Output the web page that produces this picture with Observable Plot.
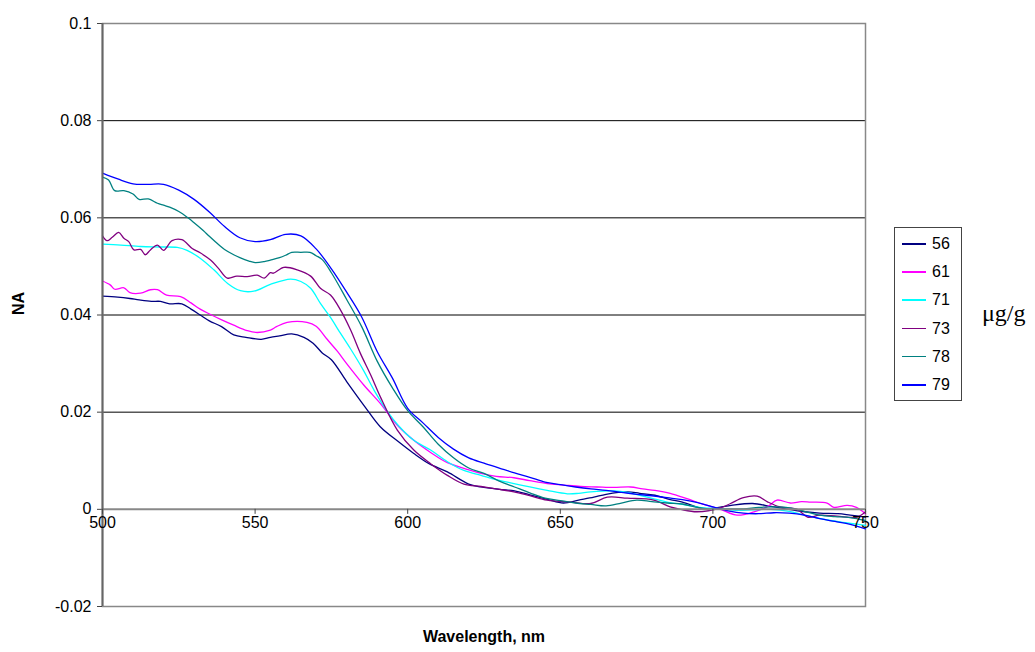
<!DOCTYPE html>
<html>
<head>
<meta charset="utf-8">
<script src="https://cdn.jsdelivr.net/npm/d3@7"></script>
<script src="https://cdn.jsdelivr.net/npm/@observablehq/plot@0.6"></script>
<style>
  body { margin: 0; background: #fff; }
  #wrap { position: relative; width: 1035px; height: 652px; font-family: Arial, "Liberation Sans", sans-serif; }
  #legend { position: absolute; left: 894px; top: 227px; width: 66px; height: 172px; border: 1px solid #444; background: #fff; }
  .item { position: absolute; left: 0; width: 66px; height: 20px; }
  .item .sw { position: absolute; left: 7px; top: 9px; width: 24px; height: 1.5px; }
  .item .lb { position: absolute; left: 37px; top: 0; line-height: 20px; font-size: 16px; color: #000; }
  #unit { position: absolute; left: 982px; top: 299px; font-family: "Liberation Serif", "Times New Roman", serif; font-size: 24px; line-height: 28px; color: #000; }
</style>
</head>
<body>
<div id="wrap"></div>
<script>
// ---- data ----
const seriesNames = ["56", "61", "71", "73", "78", "79"];
const seriesColors = ["#000080", "#FF00FF", "#00FFFF", "#800080", "#008080", "#0000FF"];
const xTicks = [500, 550, 600, 650, 700, 750];
const yTicks = [-0.02, 0, 0.02, 0.04, 0.06, 0.08, 0.1];
const gridVals = [0.02, 0.04, 0.06, 0.08];

// [wavelength nm, NA]
const s56 = [[500,0.0439],[505,0.0437],[509,0.0434],[512,0.0431],[516,0.0428],[519,0.0428],[522,0.0423],[526,0.0423],[529,0.0412],[532,0.0400],[535,0.0388],[539,0.0376],[543,0.0359],[547,0.0354],[552,0.0350],[555,0.0354],[558,0.0357],[562,0.0361],[566,0.0354],[569,0.0342],[572,0.0322],[575,0.0308],[580,0.0263],[586,0.0211],[591,0.0170],[597,0.0139],[602,0.0115],[607,0.0094],[613,0.0077],[620,0.0052],[624,0.0046],[630,0.0041],[635,0.0038],[640,0.0030],[646,0.0020],[651,0.0013],[656,0.0019],[661,0.0025],[665,0.0031],[672,0.0036],[676,0.0033],[681,0.0029],[686,0.0020],[690,0.0015],[697,0.0001],[702,0.0004],[706,0.0008],[713,0.0012],[719,0.0006],[724,0.0001],[730,-0.0005],[735,-0.0008],[741,-0.0009],[745,-0.0012],[750,-0.0016]];
const s61 = [[500,0.0470],[502.5,0.0462],[504,0.0453],[507,0.0456],[509,0.0446],[512.5,0.0445],[515.7,0.0452],[518,0.0452],[521,0.0441],[525.6,0.0438],[529,0.0425],[532,0.0412],[535.4,0.0401],[538.7,0.0391],[543,0.0379],[547.4,0.0368],[550.7,0.0364],[555,0.0369],[557,0.0376],[560.5,0.0385],[567,0.0385],[570,0.0377],[573.6,0.0350],[577,0.0325],[580,0.0300],[585.6,0.0256],[591,0.0218],[596.6,0.0173],[602,0.0142],[607.5,0.0117],[613,0.0096],[620.6,0.0080],[624,0.0074],[629,0.0068],[634.8,0.0065],[640,0.0059],[645.7,0.0053],[651,0.0050],[656.6,0.0047],[662,0.0046],[667.5,0.0045],[673,0.0046],[677,0.0042],[681,0.0039],[686,0.0033],[691.5,0.0022],[697,0.0010],[702.5,0.0000],[708,-0.0012],[713.5,-0.0005],[718,0.0006],[721,0.0019],[725.4,0.0013],[729,0.0016],[732,0.0015],[737.4,0.0013],[739.6,0.0004],[744,0.0008],[747,0.0004],[750,-0.0009]];
const s71 = [[500,0.0546],[506,0.0544],[512.5,0.0541],[519,0.0540],[524.5,0.0539],[527.7,0.0533],[532,0.0517],[536.5,0.0493],[541,0.0465],[545.2,0.0450],[549.6,0.0449],[555,0.0463],[561.6,0.0474],[565,0.0469],[568.2,0.0455],[571.4,0.0424],[574.7,0.0395],[578,0.0362],[581.3,0.0330],[585.6,0.0285],[589,0.0245],[593.5,0.0200],[597,0.0172],[602,0.0142],[607.5,0.0122],[613,0.0098],[618.4,0.0080],[624,0.0070],[629,0.0061],[634.8,0.0053],[640,0.0046],[645.7,0.0039],[652.3,0.0032],[656,0.0033],[660,0.0036],[667.5,0.0038],[672,0.0035],[676,0.0029],[681,0.0021],[685,0.0015],[690,0.0010],[697,0.0003],[702,0.0002],[708,-0.0002],[713,-0.0001],[719,0.0000],[725,-0.0004],[730,-0.0012],[738.5,-0.0023],[744,-0.0028],[750,-0.0033]];
const s73 = [[500,0.0563],[501.5,0.0553],[503.2,0.0560],[505.3,0.0570],[507,0.0558],[508.6,0.0551],[510.3,0.0534],[512.5,0.0535],[514,0.0524],[515.7,0.0534],[518,0.0544],[520,0.0533],[522.8,0.0553],[526,0.0555],[529.4,0.0537],[532,0.0528],[535.4,0.0513],[538,0.0496],[540.9,0.0476],[544,0.0480],[547.4,0.0479],[550.7,0.0482],[553,0.0476],[555,0.0487],[556,0.0486],[559.4,0.0498],[563.8,0.0493],[568.2,0.0480],[571.4,0.0455],[574.7,0.0441],[578,0.0410],[581.3,0.0369],[584.5,0.0321],[588,0.0275],[591,0.0232],[596.6,0.0163],[602,0.0122],[607.5,0.0094],[613,0.0070],[618.4,0.0052],[624,0.0047],[629,0.0042],[634.8,0.0036],[640,0.0028],[645.7,0.0019],[653.3,0.0015],[660,0.0012],[665.4,0.0025],[672,0.0023],[680.6,0.0019],[686,0.0005],[689.4,0.0000],[694.8,-0.0005],[702.5,0.0003],[705.8,0.0012],[710,0.0024],[714.5,0.0027],[718,0.0015],[722,0.0005],[727.6,0.0000],[731,-0.0016],[735,-0.0012],[740.7,-0.0014],[747.2,-0.0016],[750,-0.0005]];
const s78 = [[500,0.0684],[502,0.0678],[504,0.0656],[507,0.0656],[510,0.0649],[512,0.0638],[515,0.0639],[518,0.0630],[520,0.0626],[522,0.0622],[525,0.0613],[528,0.0600],[530,0.0590],[533,0.0574],[535,0.0562],[538,0.0545],[540,0.0535],[543,0.0524],[545,0.0518],[548,0.0511],[550,0.0508],[553,0.0510],[555,0.0513],[558,0.0518],[560,0.0523],[562,0.0529],[565,0.0529],[568,0.0529],[570,0.0522],[572,0.0514],[575,0.0487],[580,0.0432],[585,0.0375],[590,0.0305],[595,0.0250],[600,0.0203],[605,0.0170],[610,0.0134],[615,0.0106],[620,0.0085],[625,0.0074],[630,0.0058],[635,0.0046],[640,0.0034],[645,0.0023],[650,0.0018],[655,0.0013],[660,0.0010],[665,0.0007],[670,0.0013],[675,0.0019],[680,0.0016],[685,0.0013],[690,0.0011],[695,0.0004],[700,0.0000],[705,0.0001],[710,0.0001],[715,0.0004],[720,0.0005],[725,0.0003],[730,-0.0004],[735,-0.0012],[740,-0.0015],[745,-0.0017],[750,-0.0023]];
const s79 = [[500,0.0692],[505,0.0680],[510,0.0670],[515,0.0669],[520,0.0669],[525,0.0657],[530,0.0638],[535,0.0612],[540,0.0582],[545,0.0559],[550,0.0551],[555,0.0555],[560,0.0566],[565,0.0563],[570,0.0536],[575,0.0495],[580,0.0447],[585,0.0395],[590,0.0325],[595,0.0270],[600,0.0208],[605,0.0178],[610,0.0148],[615,0.0124],[620,0.0106],[625,0.0095],[630,0.0085],[635,0.0075],[640,0.0066],[645,0.0056],[650,0.0051],[655,0.0046],[660,0.0042],[665,0.0039],[670,0.0035],[675,0.0031],[680,0.0028],[685,0.0024],[690,0.0020],[695,0.0014],[700,0.0005],[705,-0.0003],[710,-0.0008],[715,-0.0009],[720,-0.0007],[725,-0.0008],[730,-0.0012],[735,-0.0019],[740,-0.0025],[745,-0.0031],[750,-0.0040]];
const seriesData = [s56, s61, s71, s73, s78, s79];

// ---- build ----
const rows = seriesData.flatMap((pts, i) => pts.map(p => ({nm: p[0], v: p[1], k: seriesNames[i]})));

const chart = Plot.plot({
  width: 1035,
  height: 652,
  marginLeft: 102,
  marginRight: 170,
  marginTop: 23,
  marginBottom: 46,
  x: {domain: [500, 750]},
  y: {domain: [-0.02, 0.1]},
  color: {domain: seriesNames, range: seriesColors},
  style: {fontFamily: "Arial, 'Liberation Sans', sans-serif", fontSize: "16px", color: "#000", background: "#fff"},
  marks: [
    Plot.ruleY(gridVals, {stroke: "#000", strokeWidth: 1}),
    Plot.frame({stroke: "#888", strokeWidth: 1.5}),
    Plot.axisX({ticks: [], label: null}),
    Plot.axisY({ticks: yTicks, tickSize: 5, tickPadding: 6, tickFormat: d => String(+d.toFixed(2)), label: null, stroke: "#444", fontSize: 16}),
    Plot.line(rows, {x: "nm", y: "v", z: "k", stroke: "k", strokeWidth: 1.3, curve: "catmull-rom"}),
    Plot.ruleY([0], {stroke: "#888", strokeWidth: 2}),
    Plot.ruleX([500], {stroke: "#666", strokeWidth: 2}),
    Plot.ruleX(xTicks, {x: d => d, y1: 0, y2: 0, insetBottom: -5, stroke: "#444"}),
    Plot.text(xTicks, {x: d => d, y: 0, dy: 14, text: d => String(d), fill: "#000", fontSize: 16}),
    Plot.text(["NA"], {frameAnchor: "left", dx: -84, rotate: -90, text: d => d, fontWeight: "bold", fontSize: 16, fill: "#000"}),
    Plot.text(["Wavelength, nm"], {frameAnchor: "bottom", dy: 35, text: d => d, fontWeight: "bold", fontSize: 16, fill: "#000"})
  ]
});

const wrap = document.getElementById("wrap");
wrap.appendChild(chart);

// legend
const legend = document.createElement("div");
legend.id = "legend";
seriesNames.forEach((name, i) => {
  const item = document.createElement("div");
  item.className = "item";
  item.style.top = (6 + i * 28.2) + "px";
  const sw = document.createElement("span");
  sw.className = "sw";
  sw.style.background = seriesColors[i];
  const lb = document.createElement("span");
  lb.className = "lb";
  lb.textContent = name;
  item.appendChild(sw);
  item.appendChild(lb);
  legend.appendChild(item);
});
wrap.appendChild(legend);

const unit = document.createElement("div");
unit.id = "unit";
unit.textContent = "μg/g";
wrap.appendChild(unit);
</script>
</body>
</html>
